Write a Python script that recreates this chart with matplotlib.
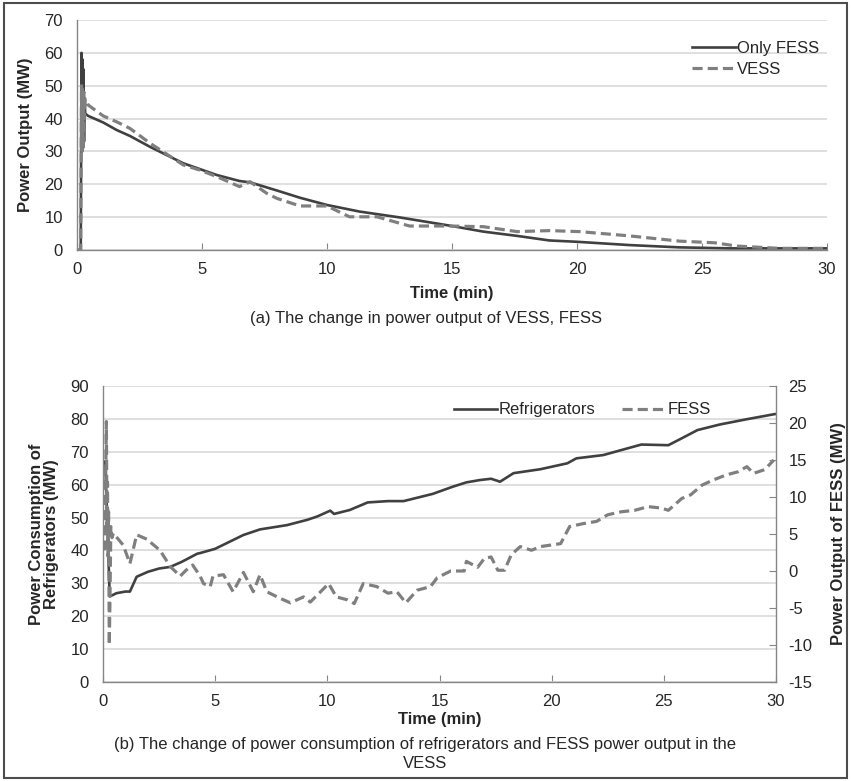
import matplotlib
matplotlib.use("Agg")
import matplotlib.pyplot as plt
from matplotlib.patches import Rectangle

plt.rcParams['font.family'] = ['Liberation Sans', 'DejaVu Sans']
plt.rcParams['axes.unicode_minus'] = False

# ---------------- Data: panel (a) ----------------
t_fess_only = [0.0, 0.15, 0.18, 0.20, 0.22, 0.24, 0.26, 0.28, 0.30, 0.33, 0.45, 1.05, 1.59,
               2.12, 2.92, 4.25, 5.6, 6.5, 6.92, 8.0, 8.92, 10.0, 11.3, 12.92, 15.0, 16.25,
               17.6, 18.9, 20.0, 22.1, 24.1, 26.1, 28.0, 30.0]
p_fess_only = [0.0, 0.0, 60.0, 30.0, 58.0, 31.0, 55.0, 33.0, 45.0, 41.5, 40.8, 38.8, 36.5,
               34.7, 31.4, 26.4, 22.8, 21.0, 20.6, 18.1, 15.9, 13.7, 11.7, 9.9, 7.3, 5.6,
               4.3, 2.9, 2.5, 1.5, 0.8, 0.5, 0.5, 0.5]

t_vess = [0.0, 0.15, 0.18, 0.20, 0.22, 0.25, 0.28, 0.30, 0.33, 0.45, 1.05, 1.59, 2.12, 2.92,
          4.25, 4.92, 5.6, 6.5, 6.92, 7.6, 8.0, 8.92, 10.0, 10.9, 12.0, 13.3, 14.9, 16.25,
          17.6, 18.9, 20.1, 22.1, 24.1, 25.5, 26.4, 28.1, 30.0]
p_vess = [0.0, 0.0, 50.0, 30.0, 49.0, 32.0, 48.0, 40.0, 46.0, 44.1, 40.8, 39.0, 37.0, 32.5,
          25.9, 24.3, 22.3, 19.3, 20.8, 17.2, 15.7, 13.4, 13.4, 10.1, 10.1, 7.3, 7.3, 7.1,
          5.6, 5.9, 5.6, 4.3, 2.7, 2.2, 1.2, 0.5, 0.5]

# ---------------- Data: panel (b) ----------------
t_refrig = [0.0, 0.1, 0.3, 0.6, 1.0, 1.2, 1.5, 2.0, 2.5, 3.0, 3.5, 4.2, 4.33, 5.0, 6.26,
            7.0, 8.2, 9.1, 9.54, 10.13, 10.3, 11.0, 11.8, 12.7, 13.4, 14.7, 15.6, 16.2,
            16.8, 17.3, 17.7, 18.3, 19.5, 20.7, 21.1, 22.3, 23.2, 24.0, 25.2, 25.8, 26.5,
            27.5, 28.7, 29.9, 30.0]
p_refrig = [67.0, 67.0, 26.0, 27.0, 27.5, 27.5, 32.0, 33.5, 34.5, 35.0, 36.5, 39.0, 39.2,
            40.5, 44.7, 46.4, 47.7, 49.3, 50.3, 52.1, 51.1, 52.3, 54.6, 55.0, 55.0, 57.2,
            59.4, 60.7, 61.4, 61.8, 60.9, 63.5, 64.7, 66.5, 68.0, 69.0, 70.7, 72.2, 72.0,
            74.1, 76.6, 78.3, 79.9, 81.4, 81.5]

t_fess_b = [0.0, 0.08, 0.15, 0.18, 0.20, 0.22, 0.25, 0.28, 0.31, 0.35, 0.40, 0.46, 0.9,
            1.2, 1.5, 1.95, 2.54, 3.0, 3.44, 3.7, 4.0, 4.33, 4.48, 4.78, 4.9, 5.37, 5.8,
            6.26, 6.7, 7.0, 7.3, 7.9, 8.35, 8.94, 9.24, 9.7, 10.06, 10.4, 10.9, 11.2, 11.6,
            12.2, 12.7, 13.1, 13.5, 14.0, 14.6, 14.9, 15.5, 16.1, 16.2, 16.7, 17.0, 17.3,
            17.6, 17.9, 18.2, 18.6, 19.1, 19.5, 19.95, 20.4, 20.8, 21.4, 22.0, 22.5, 23.1,
            23.7, 24.3, 24.9, 25.2, 25.8, 26.2, 26.7, 27.2, 27.8, 28.3, 28.7, 29.0, 29.5,
            29.9]
p_fess_b = [3.0, 3.0, 20.2, 5.0, 12.0, 2.0, 8.0, -10.0, -4.0, 6.0, 4.5, 5.1, 3.5, 1.0, 4.9,
            4.3, 2.8, 0.6, -0.7, 0.1, 0.8, -0.7, -1.7, -2.1, -0.7, -0.5, -2.8, -0.2, -2.8,
            -0.5, -2.8, -3.7, -4.3, -3.5, -4.2, -2.8, -1.7, -3.5, -3.9, -4.4, -1.7, -2.1,
            -3.0, -2.8, -4.3, -2.6, -2.1, -0.9, 0.0, 0.0, 1.3, 0.5, 1.7, 1.9, 0.1, 0.1,
            2.2, 3.3, 2.8, 3.3, 3.5, 3.7, 6.0, 6.4, 6.7, 7.6, 8.0, 8.2, 8.7, 8.5, 8.2, 9.8,
            10.3, 11.6, 12.3, 13.0, 13.4, 14.1, 13.2, 13.7, 15.0]

x_ticks = [0, 5, 10, 15, 20, 25, 30]

# ---------------- Styles ----------------
SOLID_C = '#404040'
DASH_C = '#7f7f7f'
GRID_C = '#d9d9d9'
SPINE_C = '#868686'
TXT_C = '#262626'
LW = 1.9
DASHES = (3.2, 1.6)

fig = plt.figure(figsize=(8.51, 7.81), dpi=100)
W, H = 851, 781


def style_axes(ax):
    ax.set_facecolor('white')
    for s in ['top', 'right']:
        ax.spines[s].set_visible(False)
    for s in ['left', 'bottom']:
        ax.spines[s].set_color(SPINE_C)
        ax.spines[s].set_linewidth(1.0)
    ax.grid(axis='y', color=GRID_C, linewidth=1.2)
    ax.set_axisbelow(True)
    ax.tick_params(axis='x', direction='in', length=5, color=SPINE_C, labelsize=12,
                   labelcolor=TXT_C, pad=9)
    ax.tick_params(axis='y', length=0, labelsize=12, labelcolor=TXT_C, pad=10)


# ---------------- Panel (a) ----------------
ax1 = fig.add_axes([77 / W, 1 - 250 / H, (827 - 77) / W, (250 - 20) / H])
style_axes(ax1)
ax1.plot(t_fess_only, p_fess_only, color=SOLID_C, lw=LW, label='Only FESS')
ax1.plot(t_vess, p_vess, color=DASH_C, lw=LW * 1.2, dashes=DASHES, label='VESS')
ax1.set_xlim(0, 30)
ax1.set_ylim(0, 70)
ax1.set_xticks(x_ticks)
ax1.set_yticks(range(0, 71, 10))
ax1.set_ylabel('Power Output (MW)', fontsize=12, fontweight='bold', color=TXT_C, labelpad=8)
ax1.set_xlabel('Time (min)', fontsize=12, fontweight='bold', color=TXT_C, labelpad=6)
leg1 = ax1.legend(loc='upper right', bbox_to_anchor=(1.01, 0.975), frameon=False, fontsize=12,
                  handlelength=2.6, handletextpad=0.1, labelspacing=0.35,
                  labelcolor=TXT_C)

fig.text(0.5, 1 - 318 / H, '(a) The change in power output of VESS, FESS', ha='center',
         va='center', fontsize=12, color=TXT_C)

# ---------------- Panel (b) ----------------
ax2 = fig.add_axes([103 / W, 1 - 682 / H, (776 - 103) / W, (682 - 386) / H])
style_axes(ax2)
l1, = ax2.plot(t_refrig, p_refrig, color=SOLID_C, lw=LW, label='Refrigerators')
ax2.set_xlim(0, 30)
ax2.set_ylim(0, 90)
ax2.set_xticks(x_ticks)
ax2.set_yticks(range(0, 91, 10))
ax2.set_ylabel('Power Consumption of\nRefrigerators (MW)', fontsize=12, fontweight='bold',
               color=TXT_C, labelpad=8, linespacing=1.0)
ax2.set_xlabel('Time (min)', fontsize=12, fontweight='bold', color=TXT_C, labelpad=2)

ax3 = ax2.twinx()
l2, = ax3.plot(t_fess_b, p_fess_b, color=DASH_C, lw=LW * 1.2, dashes=DASHES, label='FESS')
ax3.set_ylim(-15, 25)
ax3.set_yticks(range(-15, 26, 5))
for s in ['top', 'left', 'bottom']:
    ax3.spines[s].set_visible(False)
ax3.spines['right'].set_color(SPINE_C)
ax3.spines['right'].set_linewidth(1.0)
ax3.tick_params(axis='y', direction='in', length=5, color=SPINE_C, labelsize=12,
                labelcolor=TXT_C, pad=9)
ax3.set_ylabel('Power Output of FESS (MW)', fontsize=12, fontweight='bold', color=TXT_C,
               labelpad=13)
ax3.legend([l1, l2], ['Refrigerators', 'FESS'], loc='upper right',
           bbox_to_anchor=(0.925, 0.995), ncol=2, frameon=False, fontsize=12,
           handlelength=2.6, handletextpad=0.1, columnspacing=1.6, labelcolor=TXT_C)

fig.text(0.5, 1 - 745 / H,
         '(b) The change of power consumption of refrigerators and FESS power output in the',
         ha='center', va='center', fontsize=12, color=TXT_C)
fig.text(0.5, 1 - 763 / H, 'VESS', ha='center', va='center', fontsize=12, color=TXT_C)

# figure border
fig.patches.append(Rectangle((4 / W, 3 / H), (W - 8) / W, (H - 6) / H, transform=fig.transFigure,
                             fill=False, edgecolor='#4d4d4d', linewidth=1.5))

fig.savefig('out.png', dpi=100, facecolor='white')
